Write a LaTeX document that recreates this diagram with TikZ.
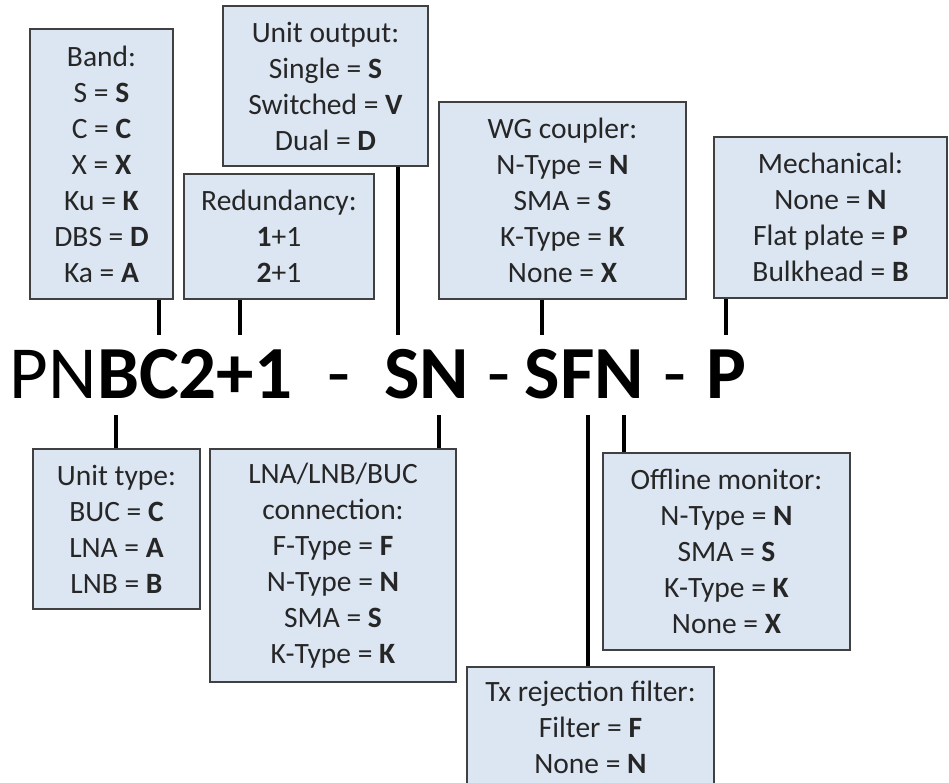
\documentclass[tikz,border=0pt]{standalone}
\usepackage{fontspec}
\setmainfont{Carlito}

\definecolor{fieldfill}{RGB}{220,230,242}

\begin{document}
\begin{tikzpicture}[x=1pt,y=-1pt]
  \tikzset{field/.style={draw=black!75,line width=1.2pt,fill=fieldfill,align=center,
      inner sep=0pt,text=black!85,font=\fontsize{29.5}{36}\selectfont},
    tick/.style={line width=4.5pt},
    part/.style={inner sep=0pt,anchor=base,font=\fontsize{75}{80}\selectfont}}
  \clip (0,0) rectangle (949,782);

  % the part number
  \node[part] (pnbc) at (151,398)   {PN\textbf{BC2+1}};
  \node[part] (dasha) at (338.5,398) {-};
  \node[part] (sn) at (426.5,398)   {\textbf{SN}};
  \node[part] (dashb) at (498.5,398) {-};
  \node[part] (sfn) at (584.5,398)  {\textbf{SFN}};
  \node[part] (dashc) at (675,398)  {-};
  \node[part] (p) at (726.5,398)    {\textbf{P}};

  % fields above
  \node[field,minimum width=143,minimum height=270] (band) at (101.5,164)
    {Band:\\S = \textbf{S}\\C = \textbf{C}\\X = \textbf{X}\\Ku = \textbf{K}\\DBS = \textbf{D}\\Ka = \textbf{A}};
  \node[field,minimum width=205,minimum height=160] (output) at (325.5,86)
    {Unit output:\\Single = \textbf{S}\\Switched = \textbf{V}\\Dual = \textbf{D}};
  \node[field,minimum width=190,minimum height=125] (redund) at (279,236.5)
    {Redundancy:\\\textbf{1}+1\\\textbf{2}+1};
  \node[field,minimum width=247,minimum height=197] (wg) at (562.5,200.5)
    {WG coupler:\\N-Type = \textbf{N}\\SMA = \textbf{S}\\K-Type = \textbf{K}\\None = \textbf{X}};
  \node[field,minimum width=233,minimum height=161] (mech) at (830.5,217.5)
    {Mechanical:\\None = \textbf{N}\\Flat plate = \textbf{P}\\Bulkhead = \textbf{B}};

  % fields below
  \node[field,minimum width=167,minimum height=160] (unittype) at (116.5,529)
    {Unit type:\\BUC = \textbf{C}\\LNA = \textbf{A}\\LNB = \textbf{B}};
  \node[field,minimum width=246,minimum height=233] (conn) at (333,565.5)
    {LNA/LNB/BUC\\connection:\\F-Type = \textbf{F}\\N-Type = \textbf{N}\\SMA = \textbf{S}\\K-Type = \textbf{K}};
  \node[field,minimum width=247,minimum height=197] (offline) at (726.5,551.5)
    {Offline monitor:\\N-Type = \textbf{N}\\SMA = \textbf{S}\\K-Type = \textbf{K}\\None = \textbf{X}};
  \node[field,minimum width=247,minimum height=120] (txfilter) at (590.5,727)
    {Tx rejection filter:\\Filter = \textbf{F}\\None = \textbf{N}};

  % where the ticks meet the letters
  \coordinate (bandend) at (159,335);
  \coordinate (redundend) at (240,335);
  \coordinate (outputend) at (398,335);
  \coordinate (wgend) at (542,335);
  \coordinate (mechend) at (726,335);
  \coordinate (unittypeend) at (116,415);
  \coordinate (connend) at (439,415);
  \coordinate (txfilterend) at (588,415);
  \coordinate (offlineend) at (624,415);

  \foreach \f in {band,redund,output,wg,mech}
    \draw[tick] (\f.south -| \f end) -- (\f end);
  \foreach \f in {unittype,conn,txfilter,offline}
    \draw[tick] (\f end) -- (\f.north -| \f end);
\end{tikzpicture}
\end{document}
